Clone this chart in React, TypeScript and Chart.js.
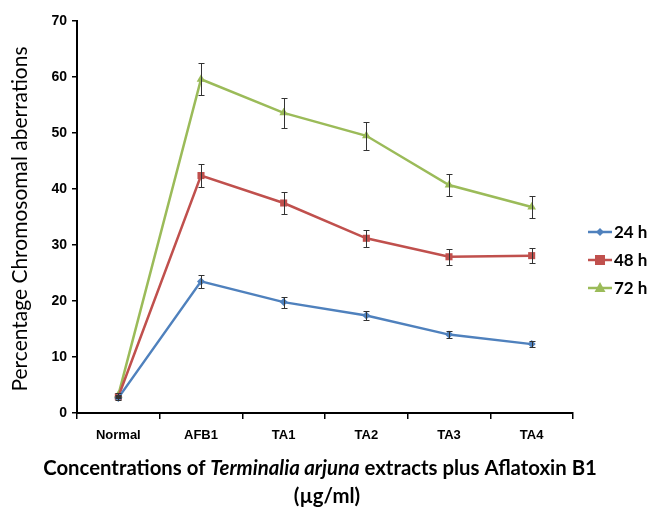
import React, { useEffect, useRef } from "react";
import { Chart, registerables } from "chart.js";

Chart.register(...registerables);

const categories = ["Normal", "AFB1", "TA1", "TA2", "TA3", "TA4"];
const seriesLabels = ["24 h", "48 h", "72 h"];
const seriesColors = ["#4F81BD", "#C0504D", "#9BBB59"];
const seriesMarkers = ["rectRot", "rect", "triangle"];

const values24 = [2.7, 23.5, 19.8, 17.4, 14.0, 12.3];
const errors24 = [0.3, 1.1, 1.0, 0.8, 0.6, 0.6];
const values48 = [2.9, 42.4, 37.5, 31.2, 27.9, 28.1];
const errors48 = [0.3, 2.1, 1.9, 1.5, 1.4, 1.4];
const values72 = [3.2, 59.6, 53.6, 49.5, 40.7, 36.8];
const errors72 = [0.3, 2.9, 2.7, 2.5, 1.9, 1.9];

const yMin = 0;
const yMax = 70;
const yStep = 10;

const yTitle = "Percentage Chromosomal aberrations";
const xTitleParts = [
  { text: "Concentrations of ", italic: false },
  { text: "Terminalia arjuna", italic: true },
  { text: " extracts plus Aflatoxin B1", italic: false },
];
const xTitleLine2 = "(\u00b5g/ml)";

const TITLE_FONT = "Lato, 'Open Sans', sans-serif";
const TICK_FONT = "'Liberation Sans', Arial, sans-serif";

function drawMarker(c: CanvasRenderingContext2D, style: string, x: number, y: number, r: number, color: string) {
  c.save();
  c.fillStyle = color;
  c.beginPath();
  if (style === "rect") {
    c.rect(x - r, y - r, 2 * r, 2 * r);
  } else if (style === "rectRot") {
    c.moveTo(x, y - r);
    c.lineTo(x + r, y);
    c.lineTo(x, y + r);
    c.lineTo(x - r, y);
    c.closePath();
  } else {
    c.moveTo(x, y - r * 1.2);
    c.lineTo(x + r * 1.1, y + r * 0.8);
    c.lineTo(x - r * 1.1, y + r * 0.8);
    c.closePath();
  }
  c.fill();
  c.restore();
}

export default function App() {
  const ref = useRef<HTMLCanvasElement>(null);

  useEffect(() => {
    document.body.style.margin = "0";
    const canvas = ref.current!;
    const allErrors = [errors24, errors48, errors72];

    const errorPlugin = {
      id: "errorBars",
      afterDatasetsDraw(chart: any) {
        const c = chart.ctx as CanvasRenderingContext2D;
        const y = chart.scales.y;
        chart.data.datasets.forEach((ds: any, i: number) => {
          const meta = chart.getDatasetMeta(i);
          const errs = allErrors[i];
          meta.data.forEach((pt: any, j: number) => {
            const v = ds.data[j];
            const e = errs[j];
            const top = Math.round(y.getPixelForValue(v + e)) + 0.5;
            const bot = Math.round(y.getPixelForValue(v - e)) + 0.5;
            const x = Math.round(pt.x) + 0.5;
            c.save();
            c.strokeStyle = "#333";
            c.lineWidth = 1;
            c.beginPath();
            c.moveTo(x, top);
            c.lineTo(x, bot);
            c.moveTo(x - 3, top);
            c.lineTo(x + 3, top);
            c.moveTo(x - 3, bot);
            c.lineTo(x + 3, bot);
            c.stroke();
            c.restore();
          });
        });
      },
    };

    const textPlugin = {
      id: "texts",
      afterDraw(chart: any) {
        const c = chart.ctx as CanvasRenderingContext2D;
        const area = chart.chartArea;

        // legend
        chart.data.datasets.forEach((ds: any, i: number) => {
          const ly = area.top + 211 + i * 28;
          const lx = area.right + 15;
          c.save();
          c.strokeStyle = seriesColors[i];
          c.lineWidth = 2.5;
          c.beginPath();
          c.moveTo(lx, ly);
          c.lineTo(lx + 24, ly);
          c.stroke();
          drawMarker(c, seriesMarkers[i], lx + 12, ly, i === 0 ? 4 : 5, seriesColors[i]);
          c.fillStyle = "#000";
          c.font = `bold 17px ${TITLE_FONT}`;
          c.textBaseline = "middle";
          c.textAlign = "left";
          c.fillText(ds.label, lx + 26, ly + 1);
          c.restore();
        });

        // y title
        c.save();
        c.font = `18px ${TITLE_FONT}`;
        const w = c.measureText(yTitle).width;
        const size = (18 * 345) / w;
        c.font = `${size}px ${TITLE_FONT}`;
        c.translate(20, (area.top + area.bottom) / 2 + 2);
        c.rotate(-Math.PI / 2);
        c.fillStyle = "#000";
        c.textAlign = "center";
        c.textBaseline = "middle";
        c.fillText(yTitle, 0, 0);
        c.restore();

        // x title
        c.save();
        const cx = (area.left + area.right) / 2;
        c.fillStyle = "#000";
        c.textBaseline = "middle";
        c.textAlign = "left";
        let fs = 20;
        const fontFor = (it: boolean) => `${it ? "italic " : ""}bold ${fs}px ${TITLE_FONT}`;
        const measure = () =>
          xTitleParts.map((p) => {
            c.font = fontFor(p.italic);
            return c.measureText(p.text).width;
          });
        let widths = measure();
        let total = widths.reduce((a, b) => a + b, 0);
        fs = (fs * 554) / total;
        widths = measure();
        total = widths.reduce((a, b) => a + b, 0);
        let x = cx - 5 - total / 2;
        const y1 = area.bottom + 55;
        xTitleParts.forEach((p, k) => {
          c.font = fontFor(p.italic);
          c.fillText(p.text, x, y1);
          x += widths[k];
        });
        c.font = fontFor(false);
        c.textAlign = "center";
        c.fillText(xTitleLine2, cx + 2, y1 + 28);
        c.restore();
      },
    };

    const makeDs = (label: string, data: number[], i: number) => ({
      label,
      data,
      borderColor: seriesColors[i],
      backgroundColor: seriesColors[i],
      borderWidth: 2.5,
      pointStyle: seriesMarkers[i],
      pointRadius: i === 0 ? 4 : 5,
      pointBorderWidth: 0,
      tension: 0,
    });

    const chart = new Chart(canvas, {
      type: "line",
      data: {
        labels: categories,
        datasets: [
          makeDs(seriesLabels[0], values24, 0),
          makeDs(seriesLabels[1], values48, 1),
          makeDs(seriesLabels[2], values72, 2),
        ],
      },
      options: {
        responsive: false,
        animation: false,
        devicePixelRatio: 1,
        layout: { padding: { left: 0, right: 76, top: 21, bottom: 0 } },
        plugins: {
          legend: { display: false },
          tooltip: { enabled: false },
        },
        scales: {
          x: {
            offset: true,
            grid: {
              offset: true,
              drawOnChartArea: false,
              drawTicks: true,
              tickLength: 6,
              color: "#000",
              lineWidth: 1.5,
            },
            border: { display: true, color: "#000", width: 2 },
            ticks: {
              color: "#000",
              padding: 9,
              font: { family: TICK_FONT, weight: "bold", size: 13 },
              maxRotation: 0,
            },
            afterFit(scale: any) {
              scale.height = 94;
            },
          },
          y: {
            min: yMin,
            max: yMax,
            ticks: {
              stepSize: yStep,
              color: "#000",
              padding: 5,
              font: { family: TICK_FONT, weight: "bold", size: 14 },
            },
            grid: {
              drawOnChartArea: false,
              drawTicks: true,
              tickLength: 5,
              color: "#000",
              lineWidth: 1.5,
            },
            border: { display: true, color: "#000", width: 2 },
            afterFit(scale: any) {
              scale.width = 77;
            },
          },
        },
      },
      plugins: [errorPlugin, textPlugin],
    } as any);

    return () => chart.destroy();
  }, []);

  return (
    <div style={{ width: 649, height: 507 }}>
      <canvas ref={ref} width={649} height={507} style={{ display: "block" }} />
    </div>
  );
}
